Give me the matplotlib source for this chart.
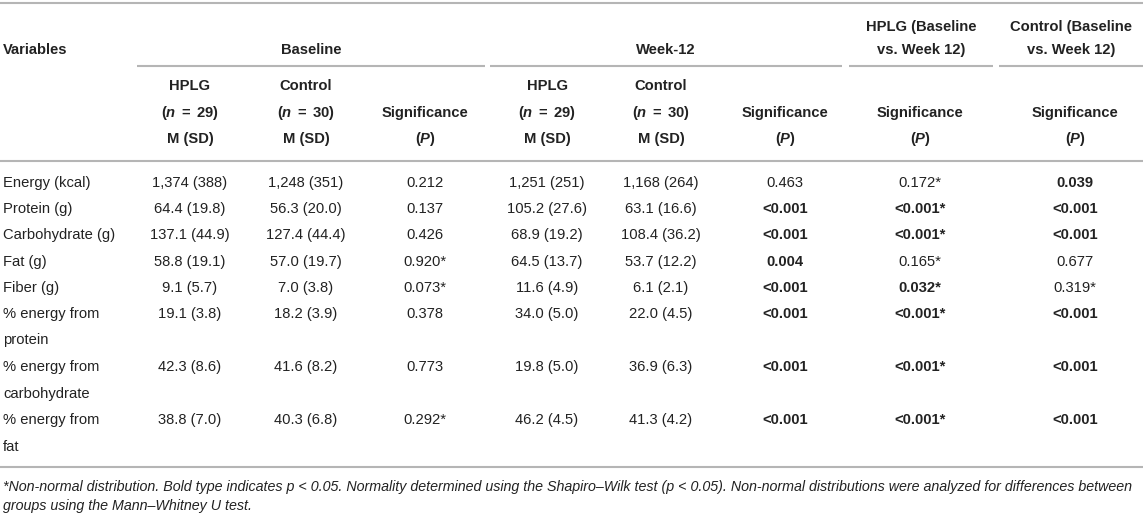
import matplotlib
matplotlib.use("Agg")
import matplotlib.pyplot as plt

plt.rcParams['font.family'] = ['Liberation Sans', 'DejaVu Sans']
plt.rcParams['mathtext.fontset'] = 'custom'
plt.rcParams['mathtext.it'] = 'Liberation Sans:italic:bold'
plt.rcParams['mathtext.rm'] = 'Liberation Sans:bold'

# ---- table data ----
variables = ["Energy (kcal)", "Protein (g)", "Carbohydrate (g)", "Fat (g)", "Fiber (g)",
             "% energy from\nprotein", "% energy from\ncarbohydrate", "% energy from\nfat"]
baseline_hplg = ["1,374 (388)", "64.4 (19.8)", "137.1 (44.9)", "58.8 (19.1)", "9.1 (5.7)",
                 "19.1 (3.8)", "42.3 (8.6)", "38.8 (7.0)"]
baseline_control = ["1,248 (351)", "56.3 (20.0)", "127.4 (44.4)", "57.0 (19.7)", "7.0 (3.8)",
                    "18.2 (3.9)", "41.6 (8.2)", "40.3 (6.8)"]
baseline_p = ["0.212", "0.137", "0.426", "0.920*", "0.073*", "0.378", "0.773", "0.292*"]
week12_hplg = ["1,251 (251)", "105.2 (27.6)", "68.9 (19.2)", "64.5 (13.7)", "11.6 (4.9)",
               "34.0 (5.0)", "19.8 (5.0)", "46.2 (4.5)"]
week12_control = ["1,168 (264)", "63.1 (16.6)", "108.4 (36.2)", "53.7 (12.2)", "6.1 (2.1)",
                  "22.0 (4.5)", "36.9 (6.3)", "41.3 (4.2)"]
week12_p = ["0.463", "<0.001", "<0.001", "0.004", "<0.001", "<0.001", "<0.001", "<0.001"]
hplg_change_p = ["0.172*", "<0.001*", "<0.001*", "0.165*", "0.032*", "<0.001*", "<0.001*", "<0.001*"]
control_change_p = ["0.039", "<0.001", "<0.001", "0.677", "0.319*", "<0.001", "<0.001", "<0.001"]

columns = [baseline_hplg, baseline_control, baseline_p, week12_hplg, week12_control,
           week12_p, hplg_change_p, control_change_p]
p_columns = [2, 5, 6, 7]

groups = ["Baseline", "Week-12", "HPLG (Baseline\nvs. Week 12)", "Control (Baseline\nvs. Week 12)"]
n_hplg = "($\\mathit{n}\\;=\\;$29)"
n_control = "($\\mathit{n}\\;=\\;$30)"
sig_label = "Significance\n($\\mathit{P}$)"
sub_headers = ["HPLG\n" + n_hplg + "\nM (SD)", "Control\n" + n_control + "\nM (SD)", sig_label,
               "HPLG\n" + n_hplg + "\nM (SD)", "Control\n" + n_control + "\nM (SD)", sig_label,
               sig_label, sig_label]

footnote = ["*Non-normal distribution. Bold type indicates p < 0.05. Normality determined using the "
            "Shapiro\u2013Wilk test (p < 0.05). Non-normal distributions were analyzed for differences between",
            "groups using the Mann\u2013Whitney U test."]


def is_significant(s):
    s = s.replace("*", "")
    if s.startswith("<"):
        return True
    return float(s) < 0.05


# ---- layout (pixels) ----
W, H = 1143, 518
col_x = [190, 306, 425, 547, 661, 785, 920, 1075]
group_x = [311, 666, 921, 1071]
group_lines = [(137, 485), (490, 842), (849, 993), (999, 1143)]
row_heights = [26.2, 26.2, 26.2, 26.2, 26.2, 53.2, 53.2, 53.2]
first_row_y = 183
line_gap = 26.5
text_color = '#222222'
rule_color = '#b5b5b5'
fs = 10.6

fig = plt.figure(figsize=(W / 100, H / 100), dpi=100)
ax = fig.add_axes([0, 0, 1, 1])
ax.set_xlim(0, W)
ax.set_ylim(H, 0)
ax.axis('off')

# rules
for y in [3, 161, 467]:
    ax.plot([0, W], [y, y], color=rule_color, lw=1.5, solid_capstyle='butt')
for x0, x1 in group_lines:
    ax.plot([x0, x1], [66, 66], color=rule_color, lw=1.5, solid_capstyle='butt')

# header
ax.text(3, 50, "Variables", ha='left', va='center', fontsize=fs, fontweight='bold', color=text_color)
for gx, g in zip(group_x, groups):
    lines = g.split("\n")
    y0 = 50 - 23 * (len(lines) - 1)
    for k, ln in enumerate(lines):
        ax.text(gx, y0 + 23 * k, ln, ha='center', va='center', fontsize=fs,
                fontweight='bold', color=text_color)
for cx, sh in zip(col_x, sub_headers):
    lines = sh.split("\n")
    y0 = 139 - 26.5 * (len(lines) - 1)
    for k, ln in enumerate(lines):
        ax.text(cx, y0 + 26.5 * k, ln, ha='center', va='center', fontsize=fs,
                fontweight='bold', color=text_color)

# body
y = first_row_y
for i, var in enumerate(variables):
    for k, ln in enumerate(var.split("\n")):
        ax.text(3, y + line_gap * k, ln, ha='left', va='center', fontsize=fs, color=text_color)
    for j, col in enumerate(columns):
        val = col[i]
        bold = j in p_columns and is_significant(val)
        ax.text(col_x[j], y, val, ha='center', va='center', fontsize=fs,
                fontweight='bold' if bold else 'normal', color=text_color)
    y += row_heights[i]

# footnote
ax.text(3, 487, footnote[0], ha='left', va='center', fontsize=10.3, style='italic', color=text_color)
ax.text(3, 506, footnote[1], ha='left', va='center', fontsize=10.3, style='italic', color=text_color)

fig.savefig("out.png", dpi=100)
